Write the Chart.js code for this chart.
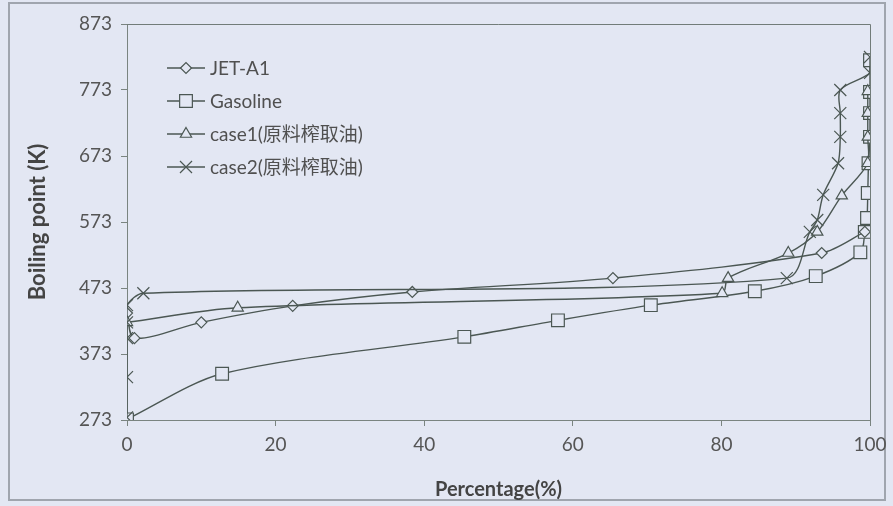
<!DOCTYPE html>
<html lang="zh">
<head>
<meta charset="utf-8">
<title>Boiling point</title>
<script src="https://cdn.jsdelivr.net/npm/chart.js@4.4.1/dist/chart.umd.min.js"></script>
<style>
  html, body { margin: 0; padding: 0; background: #e3e7f3; }
  #wrap { position: relative; width: 893px; height: 506px; }
</style>
</head>
<body>
<div id="wrap"><canvas id="chart" width="893" height="506"></canvas></div>
<script>
// distillation curves
const jetPct = [0, 1, 10, 22.3, 38.4, 65.4, 93.5, 99.3];
const jetK   = [435, 397, 421, 446, 467, 488, 526, 558];

const gasPct = [0, 12.8, 45.4, 58, 70.5, 84.5, 92.7, 98.7, 99.3, 99.6, 99.7, 99.8, 100, 100, 100, 100];
const gasK   = [274, 343, 399, 424, 447, 468, 491, 527, 558, 579, 617, 662, 702, 738, 770, 818];

const case1Pct = [0, 14.9, 80.1, 80.9, 89, 92.9, 96.2, 99.7, 99.7, 99.7, 99.7];
const case1K   = [421, 443, 465, 488, 526, 558, 613, 662, 702, 738, 771];

const case2Pct = [0, 0, 0, 0, 0, 2.2, 88.8, 91.9, 92.9, 93.7, 95.7, 96, 96, 96, 100, 100];
const case2K   = [277, 338, 397, 421, 447, 465, 488, 558, 576, 614, 662, 702, 738, 773, 799, 823];

const labels = ['JET-A1', 'Gasoline', 'case1(原料榨取油)', 'case2(原料榨取油)'];
const yTicks = [273, 373, 473, 573, 673, 773, 873];

const BG = '#e3e7f3';
const LINE = '#4b5753';
const FONT = "Lato, 'Noto Sans CJK SC', sans-serif";

const pts = (xs, ys) => xs.map((x, i) => ({ x: x, y: ys[i] }));

const series = (label, data, style, radius, order) => ({
  label: label,
  data: data,
  showLine: true,
  borderColor: LINE,
  borderWidth: 1.4,
  tension: 0.3,
  pointStyle: style,
  pointRadius: radius,
  pointHoverRadius: radius,
  pointBackgroundColor: BG,
  pointBorderColor: LINE,
  pointBorderWidth: 1.2,
  order: order
});

// background + outer frame, plot box, legend inside the plot
const frame = {
  id: 'frame',
  beforeDraw(chart) {
    const c = chart.ctx;
    c.save();
    c.fillStyle = BG;
    c.fillRect(0, 0, chart.width, chart.height);
    c.strokeStyle = '#a0a5ae';
    c.lineWidth = 2;
    c.strokeRect(9, 3, 876, 497);
    c.restore();
  },
  beforeDatasetsDraw(chart) {
    const a = chart.chartArea;
    const c = chart.ctx;
    c.save();
    c.strokeStyle = '#727c79';
    c.lineWidth = 1;
    c.beginPath();
    c.moveTo(a.left, a.top + 0.5);
    c.lineTo(a.right + 0.5, a.top + 0.5);
    c.lineTo(a.right + 0.5, a.bottom);
    c.stroke();
    c.restore();
  },
  afterDraw(chart) {
    const c = chart.ctx;
    c.save();
    chart.data.datasets.forEach((ds, i) => {
      const y = 68 + i * 33;
      c.strokeStyle = LINE;
      c.lineWidth = 1.4;
      c.beginPath();
      c.moveTo(167, y);
      c.lineTo(205, y);
      c.stroke();
      c.fillStyle = BG;
      c.strokeStyle = LINE;
      c.lineWidth = 1.2;
      Chart.helpers.drawPoint(c, { pointStyle: ds.pointStyle, radius: ds.pointRadius, rotation: 0, borderWidth: 1.2 }, 186, y);
      c.fillStyle = '#505050';
      c.font = '19px ' + FONT;
      c.textBaseline = 'middle';
      c.fillText(ds.label, 210, y + 1);
    });
    c.restore();
  }
};

new Chart(document.getElementById('chart'), {
  type: 'scatter',
  data: {
    datasets: [
      series(labels[0], pts(jetPct, jetK), 'rectRot', 5.5, 3),
      series(labels[1], pts(gasPct, gasK), 'rect', 9, 4),
      series(labels[2], pts(case1Pct, case1K), 'triangle', 6.5, 2),
      series(labels[3], pts(case2Pct, case2K), 'crossRot', 8.5, 1)
    ]
  },
  options: {
    responsive: false,
    animation: false,
    layout: { padding: { left: 0, right: 23, top: 24, bottom: 0 } },
    plugins: { legend: { display: false }, tooltip: { enabled: false } },
    scales: {
      x: {
        type: 'linear',
        min: 0,
        max: 100,
        ticks: { stepSize: 20, color: '#555', padding: 7, font: { family: FONT, size: 19 } },
        grid: { drawOnChartArea: false, tickLength: 6, color: '#7a8480' },
        border: { color: '#7a8480', width: 1 },
        title: { display: true, text: 'Percentage(%)', color: '#444', padding: { top: 0, bottom: 4 }, font: { family: FONT, size: 20, weight: 'bold' } },
        afterFit(s) { s.height = 86; s.paddingLeft = 0; s.paddingRight = 0; }
      },
      y: {
        type: 'linear',
        min: 273,
        max: 873,
        afterBuildTicks(s) { s.ticks = yTicks.map(v => ({ value: v })); },
        ticks: { color: '#555', padding: 9, font: { family: FONT, size: 19 } },
        grid: { drawOnChartArea: false, tickLength: 6, color: '#7a8480' },
        border: { color: '#7a8480', width: 1 },
        title: { display: true, text: 'Boiling point (K)', color: '#444', padding: { top: 25, bottom: 0 }, font: { family: FONT, size: 22, weight: 'bold' } },
        afterFit(s) { s.width = 127; s.paddingTop = 0; s.paddingBottom = 0; }
      }
    }
  },
  plugins: [frame]
});
</script>
</body>
</html>
